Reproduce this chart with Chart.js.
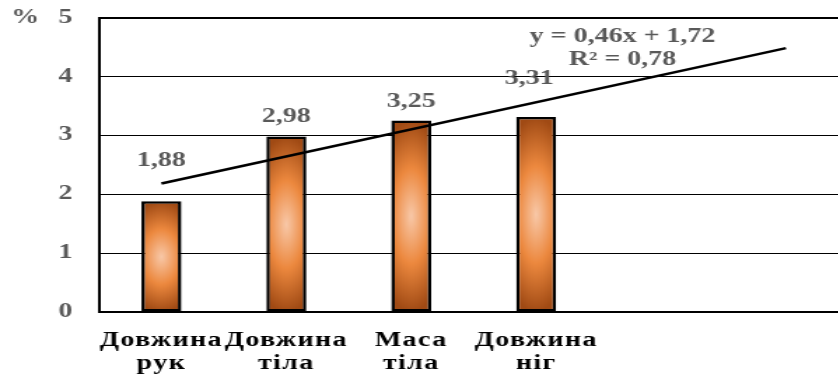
<!DOCTYPE html>
<html>
<head>
<meta charset="utf-8">
<script src="https://cdn.jsdelivr.net/npm/chart.js@4"></script>
<style>
    html, body { margin: 0; padding: 0; background: #fff; overflow: hidden; }
    /* the whole chart is drawn narrow and stretched sideways */
    #wrap { width: 606px; height: 378px; transform: scaleX(1.4); transform-origin: 0 0; }
</style>
</head>
<body>
<div id="wrap"><canvas id="grafico" width="606" height="378"></canvas></div>
<script>
// categorías (las dos últimas vacías: espacio para la línea de tendencia)
var categorias = [['Довжина', 'рук'], ['Довжина', 'тіла'], ['Маса', 'тіла'], ['Довжина', 'ніг'], '', ''];
var valores = [1.88, 2.98, 3.25, 3.31];
var ticksY = [0, 1, 2, 3, 4, 5];

// línea de tendencia lineal
var pendiente = 0.46;
var intercepto = 1.72;
var r2 = 0.78;

var fuente = "'Liberation Serif', 'Times New Roman', serif";
var gris = '#595959';

function coma(v) {
    return v.toFixed(2).replace('.', ',');
}

// solo los extremos de la recta: x = 1 y x = 6
var tendencia = categorias.map(function (c, i) {
    return (i === 0 || i === categorias.length - 1) ? intercepto + pendiente * (i + 1) : null;
});

// degradado desde el centro de la barra (claro) hacia los bordes (marrón)
function colorEn(d) {
    var stops = [[0, [248, 200, 168]], [0.5, [236, 136, 62]], [1, [160, 74, 20]]];
    if (d >= 1) return stops[2][1];
    for (var k = 0; k < stops.length - 1; k++) {
        var a = stops[k], b = stops[k + 1];
        if (d <= b[0]) {
            var t = (d - a[0]) / (b[0] - a[0]);
            return [0, 1, 2].map(function (c) { return Math.round(a[1][c] + (b[1][c] - a[1][c]) * t); });
        }
    }
    return stops[2][1];
}

function rellenoBarra(ctx) {
    var chart = ctx.chart;
    var sx = chart.scales.x, sy = chart.scales.y;
    if (!chart.chartArea || !sx || !sy || typeof ctx.raw !== 'number') return '#e8823a';
    var ancho = Math.round((sx.getPixelForValue(1) - sx.getPixelForValue(0)) * 0.32);
    var arriba = sy.getPixelForValue(ctx.raw);
    var base = sy.getPixelForValue(0);
    var alto = Math.round(base - arriba);
    var izq = sx.getPixelForValue(ctx.dataIndex) - ancho / 2;
    if (!isFinite(ancho) || !isFinite(alto) || !isFinite(izq) || ancho < 1 || alto < 1) return '#e8823a';

    var c = document.createElement('canvas');
    c.width = ancho; c.height = alto;
    var g = c.getContext('2d');
    var img = g.createImageData(ancho, alto);
    for (var j = 0; j < alto; j++) {
        for (var i = 0; i < ancho; i++) {
            var u = (i + 0.5) / ancho * 2 - 1;
            var v = (j + 0.5) / alto * 2 - 1;
            var col = colorEn(Math.sqrt(0.3 * u * u + v * v));
            var p = (j * ancho + i) * 4;
            img.data[p] = col[0]; img.data[p + 1] = col[1]; img.data[p + 2] = col[2]; img.data[p + 3] = 255;
        }
    }
    g.putImageData(img, 0, 0);
    var patron = chart.ctx.createPattern(c, 'no-repeat');
    patron.setTransform(new DOMMatrix().translate(izq, arriba));
    return patron;
}

// etiquetas de valor, ecuación y signo de %
var textosExtra = {
    id: 'textosExtra',
    beforeDraw: function (chart) {
        chart.ctx.letterSpacing = '1px';
    },
    beforeDatasetsDraw: function (chart) {
        chart.ctx.letterSpacing = '0px';
    },
    afterDatasetsDraw: function (chart, args, opts) {
        var ctx = chart.ctx;
        var area = chart.chartArea;
        var meta = chart.getDatasetMeta(1);
        ctx.save();
        ctx.letterSpacing = '0px';
        ctx.font = 'bold 20px ' + fuente;
        ctx.fillStyle = gris;
        ctx.textAlign = 'center';
        ctx.textBaseline = 'alphabetic';
        meta.data.forEach(function (bar, i) {
            ctx.fillText(coma(valores[i]), bar.x + opts.desplX[i], bar.y - opts.subir[i]);
        });

        var ex = area.left + 374;
        ctx.fillText('y = ' + coma(pendiente) + 'x + ' + coma(intercepto), ex, area.top + 24);
        ctx.fillText('R² = ' + coma(r2), ex, area.top + 47);

        ctx.fillText('%', 18, area.top + 5);
        ctx.restore();
    }
};

new Chart(document.getElementById('grafico'), {
    data: {
        labels: categorias,
        datasets: [{
            type: 'line',
            data: tendencia,
            spanGaps: true,
            borderColor: '#000',
            borderWidth: 2.6,
            pointRadius: 0,
            order: 0
        }, {
            type: 'bar',
            data: valores,
            backgroundColor: rellenoBarra,
            borderColor: '#000',
            borderWidth: 2.5,
            borderSkipped: false,
            barPercentage: 0.32,
            categoryPercentage: 1,
            order: 1
        }]
    },
    options: {
        responsive: false,
        animation: false,
        layout: { padding: 0 },
        plugins: {
            legend: { display: false },
            tooltip: { enabled: false },
            textosExtra: {
                subir: [35, 14, 14, 33],
                desplX: [0, 0, 0, -5]
            }
        },
        scales: {
            x: {
                grid: { display: false },
                border: { display: true, color: '#000', width: 2 },
                ticks: {
                    autoSkip: false,
                    maxRotation: 0,
                    padding: 9,
                    color: '#000',
                    font: { family: fuente, size: 20, weight: 'bold', lineHeight: 1.15 }
                },
                afterFit: function (s) { s.height = 66; }
            },
            y: {
                min: 0,
                max: 5,
                afterBuildTicks: function (s) {
                    s.ticks = ticksY.map(function (v) { return { value: v }; });
                },
                grid: {
                    drawTicks: false,
                    color: '#000',
                    lineWidth: function (c) { return c.tick && c.tick.value === 5 ? 2 : 1; }
                },
                border: { display: true, color: '#000', width: 2 },
                ticks: {
                    padding: 18,
                    color: gris,
                    font: { family: fuente, size: 20, weight: 'bold' }
                },
                afterFit: function (s) {
                    s.width = 70.7;
                    s.paddingTop = 17.5;
                    s.paddingBottom = 0;
                }
            }
        }
    },
    plugins: [textosExtra]
});
</script>
</body>
</html>
